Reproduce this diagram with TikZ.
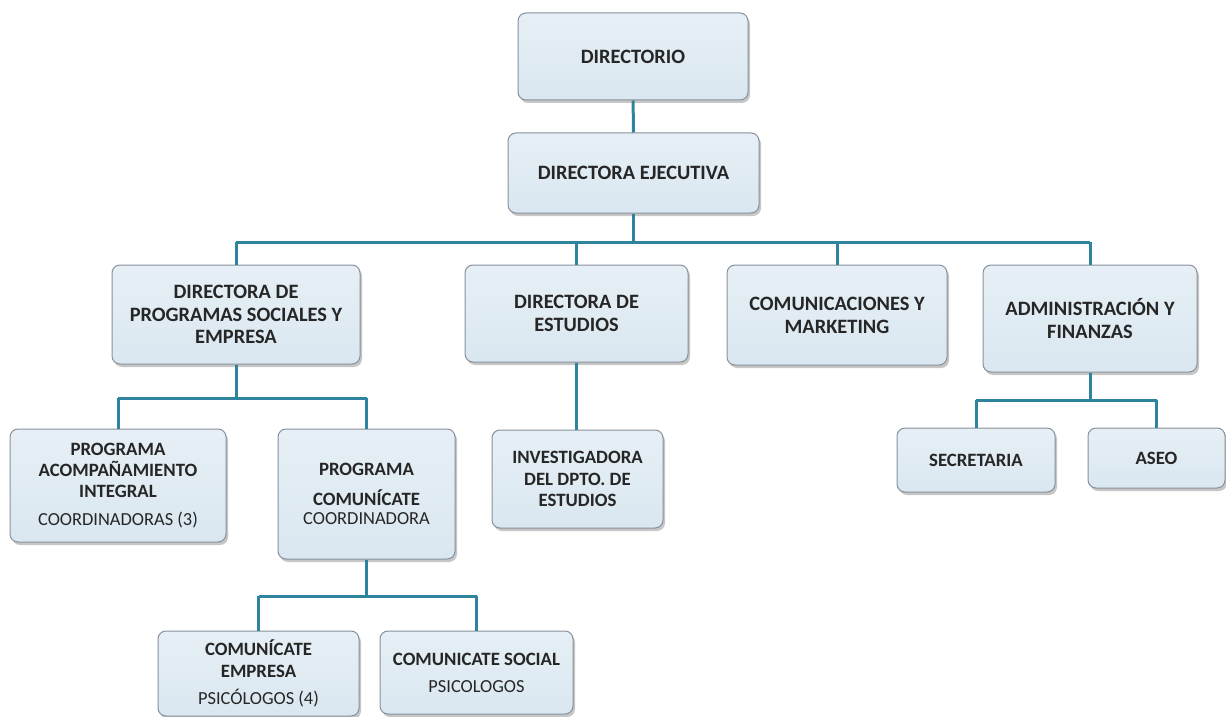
\documentclass[tikz,border=0pt]{standalone}
\usepackage{fontspec}
\setmainfont{Carlito}
\usepackage{tikz}
\usetikzlibrary{shadows, positioning, calc, shapes}
\definecolor{cajafondo}{RGB}{218,231,240}
\definecolor{cajaclaro}{RGB}{230,239,245}
\definecolor{cajaborde}{RGB}{135,145,155}
\definecolor{linea}{RGB}{46,132,158}
\tikzset{
  caja/.style={rectangle, rounded corners=4pt, draw=cajaborde, line width=0.5pt,
    top color=cajaclaro, bottom color=cajafondo,
    drop shadow={opacity=0.45, shadow xshift=1pt, shadow yshift=-1.5pt},
    align=center, inner sep=2pt, text=black!85},
  cajagrande/.style={caja, font=\fontsize{10.2}{11.4}\selectfont\bfseries},
  cajachica/.style={caja, font=\fontsize{9.4}{10.6}\selectfont\bfseries},
  conector/.style={draw=linea, line width=1.5pt}
}
\newcommand{\subtitulo}[1]{{\fontsize{9.2}{10.6}\selectfont\mdseries #1}}

\begin{document}
\begin{tikzpicture}[x=0.5pt,y=-0.5pt]
\useasboundingbox (0,0) rectangle (1226,717);

\node[cajagrande, minimum width=115pt, minimum height=43.5pt] (D) at (633,56.5) {DIRECTORIO};
\node[cajagrande, minimum width=125.5pt, minimum height=40pt] (DE) at (633.5,173) {DIRECTORA EJECUTIVA};

\node[cajagrande, minimum width=124pt, minimum height=49.5pt] (DP) at (236,314.5) {DIRECTORA DE\\PROGRAMAS SOCIALES Y\\EMPRESA};
\node[cajagrande, minimum width=111.5pt, minimum height=48.5pt] (DES) at (576.5,313.5) {DIRECTORA DE\\ESTUDIOS};
\node[cajagrande, minimum width=110pt, minimum height=50pt] (CM) at (837,315) {COMUNICACIONES Y\\MARKETING};
\node[cajagrande, minimum width=107pt, minimum height=53.5pt] (AF) at (1090,318.5) {ADMINISTRACIÓN Y\\FINANZAS};

\node[cajachica, minimum width=108pt, minimum height=56.5pt] (PA) at (118,485.5) {PROGRAMA\\ACOMPAÑAMIENTO\\INTEGRAL\\[3pt]\subtitulo{COORDINADORAS (3)}};
\node[cajachica, minimum width=88.5pt, minimum height=65pt] (PC) at (366.5,494) {PROGRAMA\\[4pt]COMUNÍCATE\\[-1pt]\subtitulo{COORDINADORA}};
\node[cajachica, minimum width=85.5pt, minimum height=49pt] (IN) at (577.5,479) {INVESTIGADORA\\DEL DPTO. DE\\ESTUDIOS};
\node[cajachica, minimum width=79pt, minimum height=32pt] (SE) at (976,460) {SECRETARIA};
\node[cajachica, minimum width=68.5pt, minimum height=30pt] (AS) at (1156.5,458) {ASEO};

\node[cajachica, minimum width=100.5pt, minimum height=42.5pt] (CE) at (258.5,673.5) {COMUNÍCATE\\EMPRESA\\[3pt]\subtitulo{PSICÓLOGOS (4)}};
\node[cajachica, minimum width=96.5pt, minimum height=41.5pt] (CS) at (476.5,672.5) {COMUNICATE SOCIAL\\[3pt]\subtitulo{PSICOLOGOS}};

\coordinate (B0) at (635,242);
\coordinate (B1) at (237,398);
\coordinate (B2) at (368,596);
\coordinate (B3) at (1091,400);

\draw[conector] (D) -- (DE);
\draw[conector] (DE) -- (DE |- B0);
\draw[conector] (DP |- B0) -- (AF |- B0);
\foreach \n in {DP,DES,CM,AF}
  \draw[conector] (\n |- B0) -- (\n);

\draw[conector] (DP) -- (DP |- B1);
\draw[conector] (PA |- B1) -- (PC |- B1);
\draw[conector] (PA |- B1) -- (PA);
\draw[conector] (PC |- B1) -- (PC);

\draw[conector] (PC) -- (PC |- B2);
\draw[conector] (CE |- B2) -- (CS |- B2);
\draw[conector] (CE |- B2) -- (CE);
\draw[conector] (CS |- B2) -- (CS);

\draw[conector] (DES) -- (DES |- IN.north);

\draw[conector] (AF) -- (AF |- B3);
\draw[conector] (SE |- B3) -- (AS |- B3);
\draw[conector] (SE |- B3) -- (SE);
\draw[conector] (AS |- B3) -- (AS);
\end{tikzpicture}
\end{document}
